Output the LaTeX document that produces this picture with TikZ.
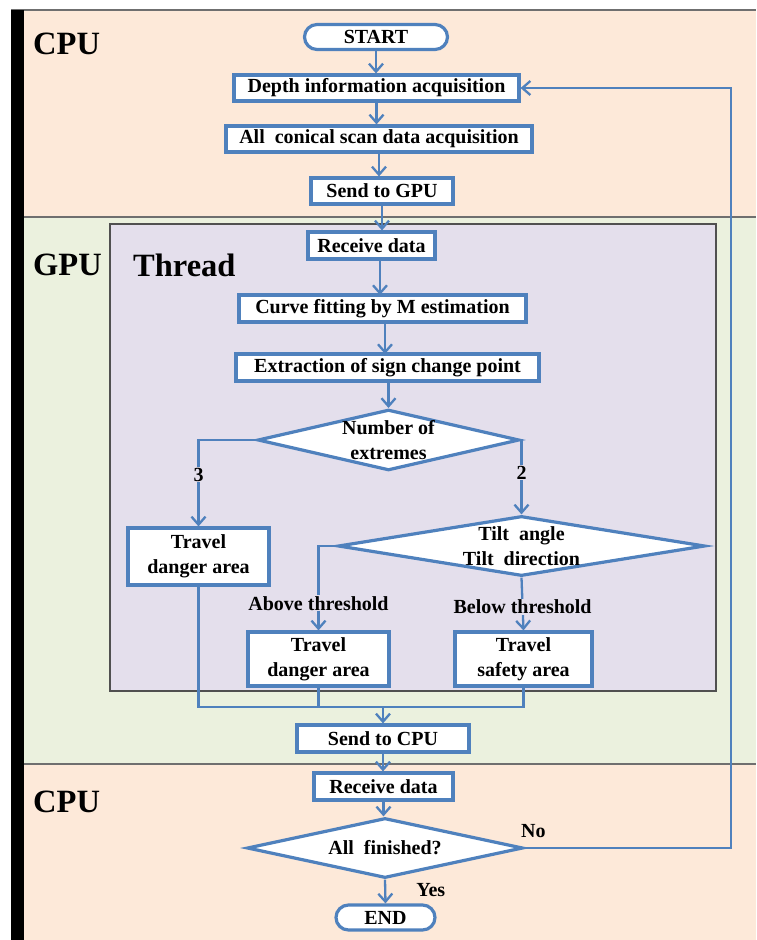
\documentclass[tikz,border=0pt]{standalone}
\usepackage{fontspec}
\setmainfont{Liberation Serif}
\usetikzlibrary{arrows.meta,shapes.geometric,shapes.misc}
\definecolor{peach}{HTML}{FDE9D9}
\definecolor{gpugreen}{HTML}{EBF1DE}
\definecolor{lav}{HTML}{E4DFEC}
\definecolor{flow}{HTML}{4F81BD}
\definecolor{bandline}{HTML}{6F6F6F}
\definecolor{threadline}{HTML}{505050}
\newcommand\bxfont{\fontsize{20}{25}\selectfont\bfseries}
\newcommand\bigfont{\fontsize{32.5}{36}\selectfont\bfseries}
\begin{document}
\begin{tikzpicture}[x=1pt,y=-1pt,
  box/.style={draw=flow,line width=3.2,fill=white,font=\bxfont,inner sep=0,align=center},
  term/.style={box,rounded rectangle},
  dia/.style={draw=flow,line width=3.2,fill=white,font=\bxfont,inner sep=0,align=center,diamond},
  conn/.style={draw=flow,line width=2.3},
  arr/.style={conn,-{Straight Barb[length=8,width=14,line width=2.3]}},
  lbl/.style={font=\bxfont,inner sep=1,fill=lav},
  band/.style={bandline,line width=1.8},
  side/.style={font=\bigfont,anchor=west,inner sep=0}]
\useasboundingbox (0,0) rectangle (756,940);
\fill[white] (0,0) rectangle (756,940);
% bands
\fill[peach] (11,10) rectangle (756,217);
\fill[gpugreen] (11,217) rectangle (756,764);
\fill[peach] (11,764) rectangle (756,940);
\draw[band] (11,10) -- (756,10);
\draw[band] (24,217) -- (756,217);
\draw[band] (24,764) -- (756,764);
\fill[black] (11,10) rectangle (24,940);
% thread
\filldraw[fill=lav,draw=threadline,line width=1.8] (110,224) rectangle (716,691);
\node[side] (cpu1) at (33,44) {CPU};
\node[side] (gpu) at (33,265) {GPU};
\node[side] (thread) at (133,265) {Thread};
\node[side] (cpu2) at (33,802) {CPU};
% nodes
\node[term,minimum width=143,minimum height=25] (start) at (376,37) {START};
\node[box,minimum width=285,minimum height=26] (depth) at (376.5,88) {Depth information acquisition};
\node[box,minimum width=306,minimum height=26] (conical) at (379,139) {All\ \ conical scan data acquisition};
\node[box,minimum width=142,minimum height=26] (sendgpu) at (382,191) {Send to GPU};
\node[box,minimum width=127,minimum height=27] (recv1) at (371.5,245.5) {Receive data};
\node[box,minimum width=287,minimum height=27] (curve) at (382.5,308.5) {Curve fitting by M estimation};
\node[box,minimum width=303,minimum height=27] (extract) at (387.5,367.5) {Extraction of sign change point};
\node[dia,aspect=4.3,minimum width=259,minimum height=60] (d1) at (388.5,440) {Number of\\extremes};
\node[box,minimum width=141,minimum height=57] (tda1) at (198.5,556.5) {Travel\\danger area};
\node[dia,aspect=6,minimum width=367,minimum height=60] (d2) at (521.5,546) {Tilt\ \ angle\\Tilt\ \ direction};
\node[box,minimum width=141,minimum height=54] (tda2) at (318.5,659) {Travel\\danger area};
\node[box,minimum width=137,minimum height=54] (tsa) at (523.5,659) {Travel\\safety area};
\node[box,minimum width=172,minimum height=27] (sendcpu) at (383,738.5) {Send to CPU};
\node[box,minimum width=139,minimum height=27] (recv2) at (383.5,786.5) {Receive data};
\node[dia,aspect=4.6,minimum width=276,minimum height=60] (d3) at (385,848) {All\ \ finished?};
\node[term,minimum width=99,minimum height=25] (end) at (385.5,917.5) {END};
% connectors
\draw[arr] (start.south) -- (start.south |- depth.north);
\draw[arr] (depth.south) -- (depth.south |- conical.north);
\draw[arr] (conical.south) -- (conical.south |- sendgpu.north);
\draw[arr] (sendgpu.south) -- (sendgpu.south |- recv1.north);
\draw[arr] (380,259) -- (380,295);
\draw[arr] (385,322) -- (385,354);
\draw[arr] (388.5,381) -- (d1.north);
\draw[arr] (d1.west) -| (tda1.north) node[lbl,pos=0.70] (l3) {3};
\draw[arr] (d1.east) -| (d2.north) node[lbl,pos=0.72] (l2) {2};
\draw[arr] (d2.west) -| (tda2.north) node[lbl,pos=0.84] (labove) {Above threshold};
\draw[arr] (d2.south) -- (tsa.north) node[lbl,pos=0.55] (lbelow) {Below threshold};
\coordinate (mL) at (tda1.south |- 0,707);
\coordinate (mR) at (tsa.south |- 0,707);
\coordinate (mM) at (sendcpu.north |- 0,707);
\draw[conn] (tda1.south) -- (mL) -- (mR) -- (tsa.south);
\draw[conn] (tda2.south) -- (tda2.south |- mL);
\draw[arr] (mM) -- (sendcpu.north);
\draw[arr] (sendcpu.south) -- (sendcpu.south |- recv2.north);
\draw[arr] (recv2.south) -- (recv2.south |- d3.north);
\draw[arr] (d3.south) -- (end.north) node[font=\bxfont,pos=0.45,right=30,inner sep=0] (lyes) {Yes};
\coordinate (loopB) at (731,848);
\coordinate (loopT) at (731,88);
\draw[arr] (d3.east) -- (loopB) -- (loopT) -- (depth.east);
\node[font=\bxfont,anchor=south west,inner sep=0] (lno) at (521,838) {No};
\end{tikzpicture}
\end{document}
